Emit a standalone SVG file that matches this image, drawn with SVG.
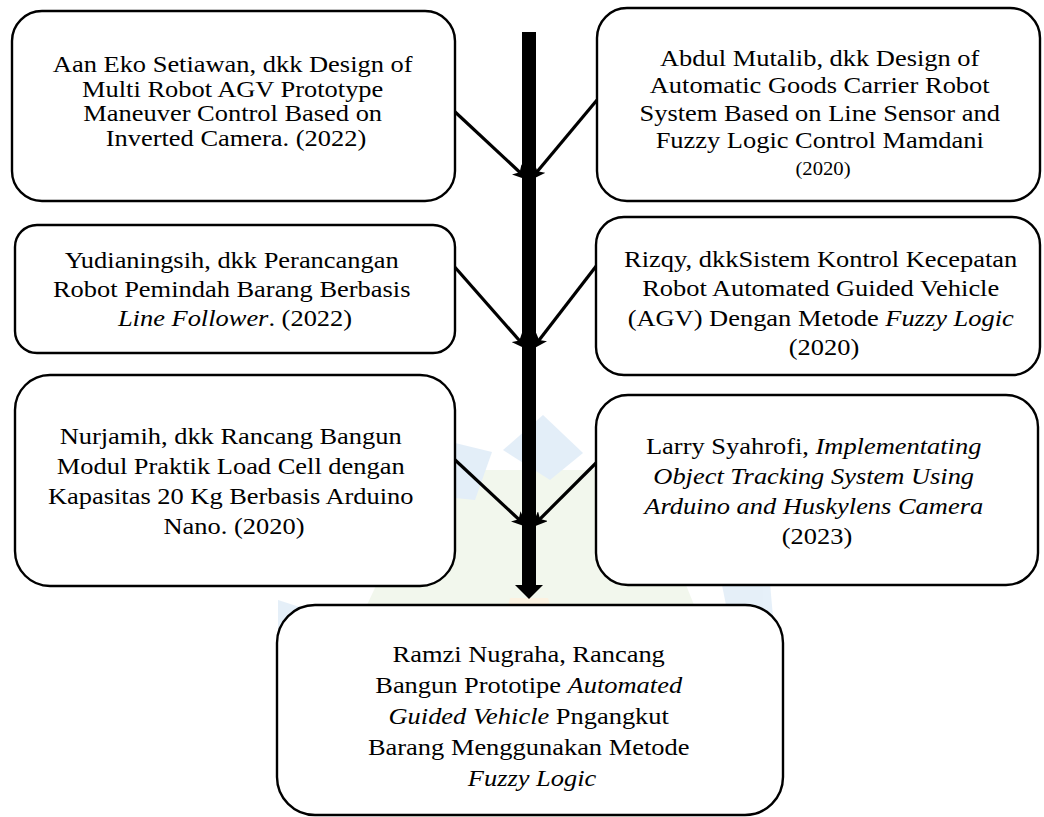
<svg xmlns="http://www.w3.org/2000/svg" width="1044" height="817" viewBox="0 0 1044 817">
  <defs>
    <style>
      .box { fill: #ffffff; stroke: #000000; stroke-width: 2.4; }
      .t { font-family: 'Liberation Serif', 'Times New Roman', Times, serif; font-size: 23px; fill: #000000; text-anchor: middle; }
      .i { font-style: italic; }
      .conn { stroke: #000000; stroke-width: 3.2; fill: none; }
      .wm { stroke: none; }
    </style>
    <marker id="head" markerUnits="userSpaceOnUse" markerWidth="16" markerHeight="14" viewBox="0 0 16 14" refX="14" refY="7" orient="auto">
      <path d="M0,0 L16,7 L0,14 L4,7 z" fill="#000000"/>
    </marker>
  </defs>
  <rect x="0" y="0" width="1044" height="817" fill="#ffffff"/>

  <g id="watermark" opacity="0.5">
    <polygon class="wm" points="430,470 640,470 700,620 680,817 380,817 360,620" fill="#e6f1dc"/>
    <polygon class="wm" points="543,415 583,453 550,480 503,450" fill="#c9def2"/>
    <polygon class="wm" points="455,443 492,452 475,500 455,498" fill="#c9def2"/>
    <polygon class="wm" points="600,440 640,470 610,500 598,470" fill="#dfecd2"/>
    <polygon class="wm" points="278,600 315,612 300,662 278,655" fill="#cde1f3"/>
    <polygon class="wm" points="722,585 768,560 775,640 735,650" fill="#cde1f3"/>
    <polygon class="wm" points="510,598 548,598 560,640 500,640" fill="#fae7c4"/>
  </g>

  <g id="connectors">
    <rect x="522" y="32" width="14" height="554" fill="#000000"/>
    <polygon points="515,585 543,585 529,599" fill="#000000"/>
    <line class="conn" x1="453" y1="110" x2="527" y2="179" marker-end="url(#head)"/>
    <line class="conn" x1="597" y1="100" x2="531" y2="179" marker-end="url(#head)"/>
    <line class="conn" x1="453" y1="265" x2="526" y2="348" marker-end="url(#head)"/>
    <line class="conn" x1="597" y1="265" x2="533" y2="348" marker-end="url(#head)"/>
    <line class="conn" x1="453" y1="458" x2="526" y2="526" marker-end="url(#head)"/>
    <line class="conn" x1="597" y1="462" x2="533" y2="526" marker-end="url(#head)"/>
  </g>

  <g id="node-setiawan">
    <rect class="box" x="12" y="11" width="443" height="190" rx="30" ry="30"/>
    <text class="t" transform="translate(236 0) scale(1.15 1)">
      <tspan x="0" y="72">Aan Eko Setiawan, dkk Design of</tspan>
      <tspan x="0" y="97">Multi Robot AGV Prototype</tspan>
      <tspan x="0" y="121">Maneuver Control Based on</tspan>
      <tspan x="0" y="146">Inverted Camera. (2022)</tspan>
    </text>
  </g>

  <g id="node-mutalib">
    <rect class="box" x="597" y="8" width="443" height="193" rx="30" ry="30"/>
    <text class="t" transform="translate(823 0) scale(1.15 1)">
      <tspan x="0" y="66">Abdul Mutalib, dkk Design of</tspan>
      <tspan x="0" y="93">Automatic Goods Carrier Robot</tspan>
      <tspan x="0" y="121">System Based on Line Sensor and</tspan>
      <tspan x="0" y="148">Fuzzy Logic Control Mamdani</tspan>
      <tspan x="0" y="175" font-size="18">(2020)</tspan>
    </text>
  </g>

  <g id="node-yudianingsih">
    <rect class="box" x="15" y="225" width="440" height="128" rx="22" ry="22"/>
    <text class="t" transform="translate(235 0) scale(1.15 1)">
      <tspan x="0" y="268">Yudianingsih, dkk Perancangan</tspan>
      <tspan x="0" y="297">Robot Pemindah Barang Berbasis</tspan>
      <tspan x="0" y="326"><tspan class="i">Line Follower</tspan>. (2022)</tspan>
    </text>
  </g>

  <g id="node-rizqy">
    <rect class="box" x="596" y="217" width="444" height="158" rx="28" ry="28"/>
    <text class="t" transform="translate(824 0) scale(1.15 1)">
      <tspan x="0" y="267">Rizqy, dkkSistem Kontrol Kecepatan</tspan>
      <tspan x="0" y="296">Robot Automated Guided Vehicle</tspan>
      <tspan x="0" y="326">(AGV) Dengan Metode <tspan class="i">Fuzzy Logic</tspan></tspan>
      <tspan x="0" y="355">(2020)</tspan>
    </text>
  </g>

  <g id="node-nurjamih">
    <rect class="box" x="15" y="375" width="440" height="211" rx="35" ry="35"/>
    <text class="t" transform="translate(234 0) scale(1.15 1)">
      <tspan x="0" y="444">Nurjamih, dkk Rancang Bangun</tspan>
      <tspan x="0" y="474">Modul Praktik Load Cell dengan</tspan>
      <tspan x="0" y="504">Kapasitas 20 Kg Berbasis Arduino</tspan>
      <tspan x="0" y="534">Nano. (2020)</tspan>
    </text>
  </g>

  <g id="node-syahrofi">
    <rect class="box" x="596" y="395" width="442" height="190" rx="32" ry="32"/>
    <text class="t" transform="translate(817 0) scale(1.15 1)">
      <tspan x="0" y="454">Larry Syahrofi, <tspan class="i">Implementating</tspan></tspan>
      <tspan x="0" y="484" class="i">Object Tracking System Using</tspan>
      <tspan x="0" y="514" class="i">Arduino and Huskylens Camera</tspan>
      <tspan x="0" y="544">(2023)</tspan>
    </text>
  </g>

  <g id="node-nugraha">
    <rect class="box" x="277" y="605" width="506" height="210" rx="38" ry="38"/>
    <text class="t" transform="translate(532 0) scale(1.15 1)">
      <tspan x="0" y="662">Ramzi Nugraha, Rancang</tspan>
      <tspan x="0" y="693">Bangun Prototipe <tspan class="i">Automated</tspan></tspan>
      <tspan x="0" y="724"><tspan class="i">Guided Vehicle</tspan> Pngangkut</tspan>
      <tspan x="0" y="755">Barang Menggunakan Metode</tspan>
      <tspan x="0" y="786" class="i">Fuzzy Logic</tspan>
    </text>
  </g>
</svg>
